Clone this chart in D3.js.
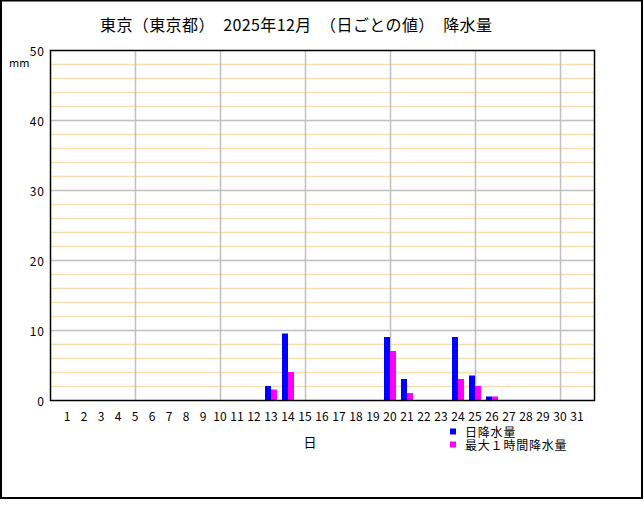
<!DOCTYPE html>
<html><head><meta charset="utf-8">
<script src="https://cdn.jsdelivr.net/npm/d3@7"></script>
<style>
html,body{margin:0;padding:0;background:#fff;}
svg{display:block;}
text{font-family:"Noto Sans CJK JP","DejaVu Sans",sans-serif;fill:#000;}
</style></head>
<body>
<script>
const titleText = "東京（東京都）　2025年12月　（日ごとの値）　降水量";
const days = d3.range(1, 32);
const dailyPrecip = [0,0,0,0,0,0,0,0,0,0,0,0,2.0,9.5,0,0,0,0,0,9.0,3.0,0,0,9.0,3.5,0.5,0,0,0,0,0];
const maxHourly   = [0,0,0,0,0,0,0,0,0,0,0,0,1.5,4.0,0,0,0,0,0,7.0,1.0,0,0,3.0,2.0,0.5,0,0,0,0,0];
const yTicks = [0,10,20,30,40,50];
const yMinor = [2,4,6,8,12,14,16,18,22,24,26,28,32,34,36,38,42,44,46,48];
const xGridDays = [5,10,15,20,25,30];
const seriesNames = ["日降水量","最大１時間降水量"];
const seriesColors = ["#0000ff","#ff00ff"];

const W = 644, H = 510;
const svg = d3.select("body").append("svg").attr("width", W).attr("height", H);

// outer frame
svg.append("rect").attr("x",1).attr("y",0.5).attr("width",641).attr("height",497.5)
  .attr("fill","none").attr("stroke","#000").attr("stroke-width",2);

const x = d3.scaleLinear().domain([0,32]).range([50,594]);
const y = d3.scaleLinear().domain([0,50]).range([400,50]);

// minor gridlines
svg.append("g").selectAll("line").data(yMinor).join("line")
  .attr("x1",x(0)).attr("x2",x(32))
  .attr("y1",d=>Math.round(y(d))+0.5).attr("y2",d=>Math.round(y(d))+0.5)
  .attr("stroke","#f5deb0").attr("stroke-width",1.5);
// major horizontal gridlines
svg.append("g").selectAll("line").data(yTicks.filter(d=>d>0&&d<50)).join("line")
  .attr("x1",x(0)).attr("x2",x(32))
  .attr("y1",d=>Math.round(y(d))+0.5).attr("y2",d=>Math.round(y(d))+0.5)
  .attr("stroke","#c0c0c0").attr("stroke-width",1.5);
// vertical gridlines
svg.append("g").selectAll("line").data(xGridDays).join("line")
  .attr("x1",d=>Math.round(x(d))+0.5).attr("x2",d=>Math.round(x(d))+0.5)
  .attr("y1",y(50)).attr("y2",y(0))
  .attr("stroke","#c0c0c0").attr("stroke-width",1.5);

// bars
const bw = 6;
svg.append("g").selectAll("rect").data(days.map((d,i)=>({d, v:dailyPrecip[i]})).filter(o=>o.v>0)).join("rect")
  .attr("x",o=>x(o.d)-bw).attr("width",bw)
  .attr("y",o=>y(o.v)).attr("height",o=>y(0)-y(o.v))
  .attr("fill",seriesColors[0]);
svg.append("g").selectAll("rect").data(days.map((d,i)=>({d, v:maxHourly[i]})).filter(o=>o.v>0)).join("rect")
  .attr("x",o=>x(o.d)).attr("width",bw)
  .attr("y",o=>y(o.v)).attr("height",o=>y(0)-y(o.v))
  .attr("fill",seriesColors[1]);

// plot frame
svg.append("rect").attr("x",x(0)+0.5).attr("y",y(50)+0.5).attr("width",x(32)-x(0)).attr("height",y(0)-y(50))
  .attr("fill","none").attr("stroke","#000").attr("stroke-width",1.5);

// y tick labels
svg.append("g").selectAll("text").data(yTicks).join("text")
  .attr("x",45).attr("y",d=>y(d)).attr("text-anchor","end").attr("dominant-baseline","central")
  .attr("font-size",12).attr("letter-spacing","1px").text(d=>d);
svg.append("text").attr("x",9).attr("y",62).attr("dominant-baseline","central")
  .attr("font-size",11).text("mm");

// x tick labels
svg.append("g").selectAll("text").data(days).join("text")
  .attr("x",d=>x(d)).attr("y",415).attr("text-anchor","middle").attr("dominant-baseline","central")
  .attr("font-size",12).text(d=>d);
svg.append("text").attr("x",310).attr("y",441).attr("text-anchor","middle").attr("dominant-baseline","central")
  .attr("font-size",13).text("日");

// title
svg.append("text").attr("x",100).attr("y",24).attr("dominant-baseline","central")
  .attr("font-size",16).attr("textLength",392).attr("lengthAdjust","spacing").text(titleText);

// legend
const lg = svg.append("g");
seriesNames.forEach((n,i)=>{
  lg.append("rect").attr("x",450).attr("y",428.5+i*13).attr("width",6).attr("height",6).attr("fill",seriesColors[i]);
  lg.append("text").attr("x",465).attr("y",431.5+i*13).attr("dominant-baseline","central")
    .attr("font-size",12).attr("letter-spacing","0.8px").text(n);
});
</script>
</body></html>
